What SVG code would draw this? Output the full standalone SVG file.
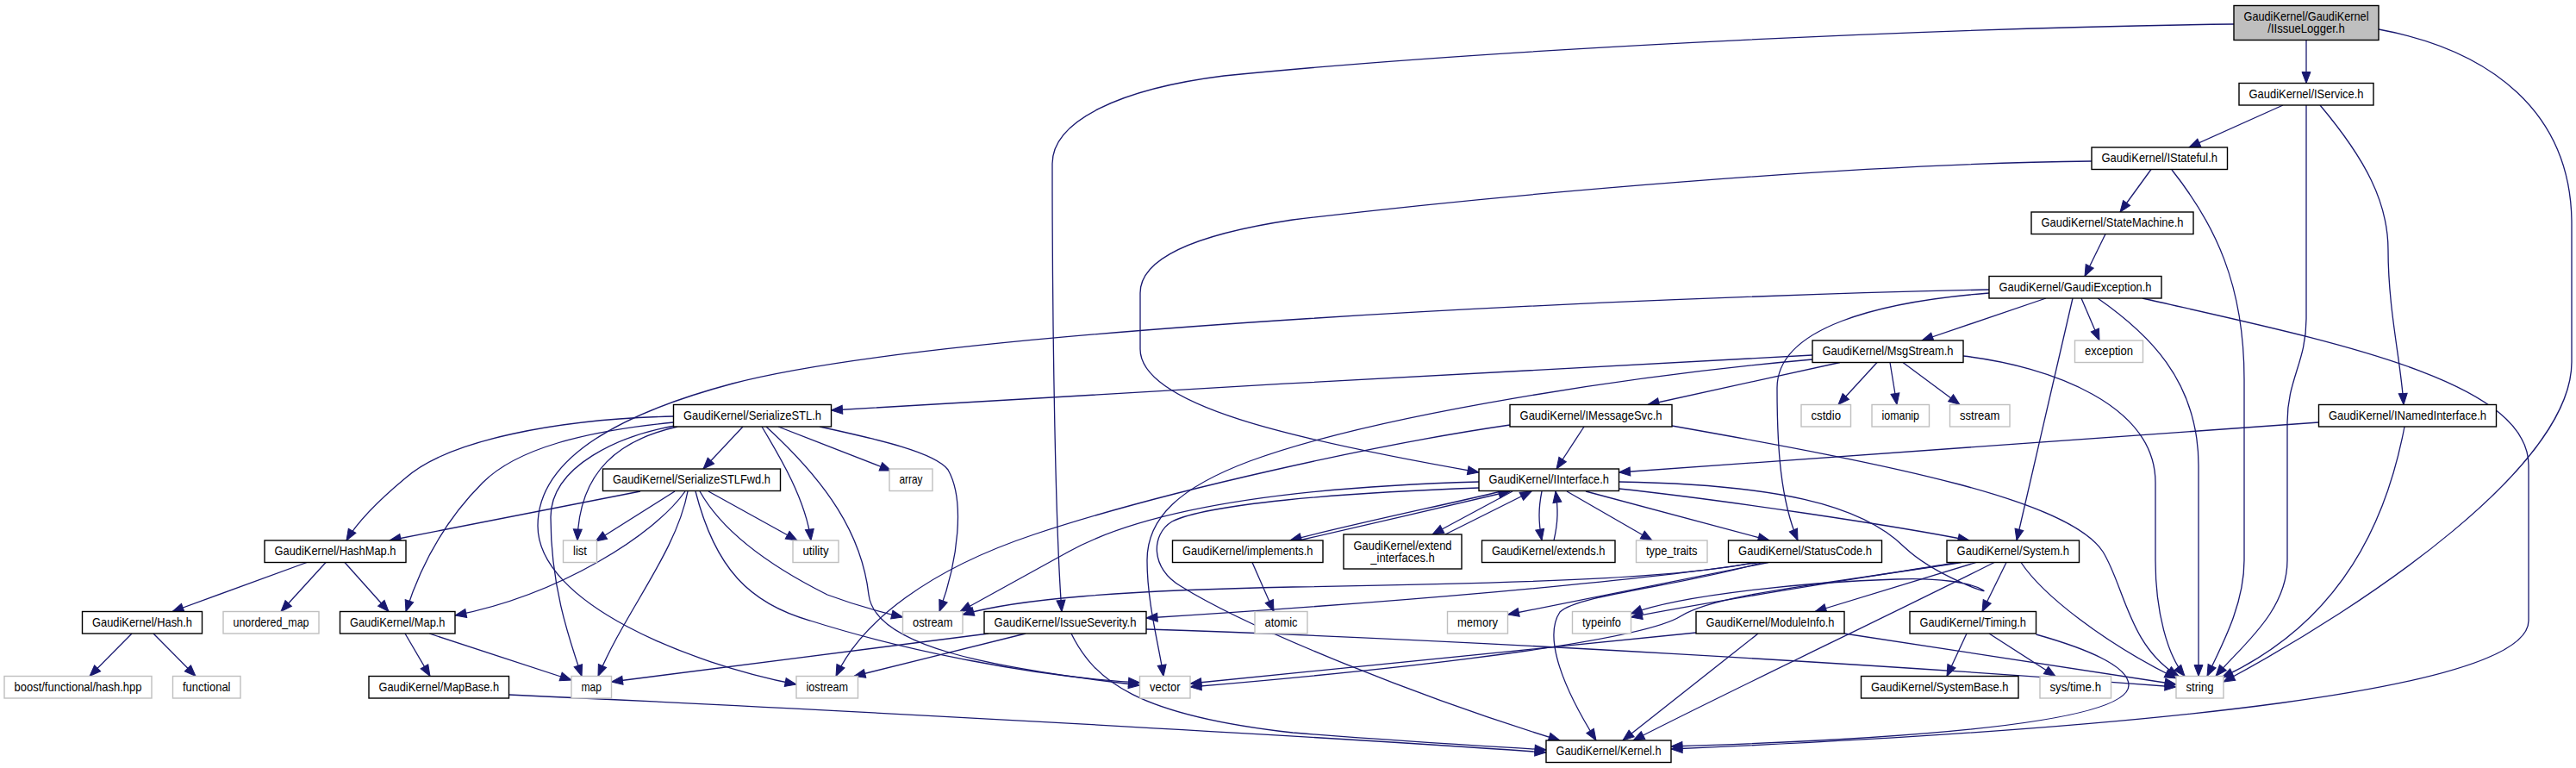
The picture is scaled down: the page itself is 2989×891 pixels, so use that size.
<svg xmlns="http://www.w3.org/2000/svg" width="2989" height="891" viewBox="0 0 2989 891">
<defs>
<style>
.edge{fill:none;stroke:#191970;stroke-width:1.3;marker-end:url(#arr)}
.nd rect{fill:#ffffff;stroke:#000000;stroke-width:1.4}
.ext rect{fill:#ffffff;stroke:#bfbfbf;stroke-width:1.4}
.root rect{fill:#bfbfbf;stroke:#000000;stroke-width:1.4}
text{font-family:"Liberation Sans",Arial,Helvetica,sans-serif;font-size:15px;text-anchor:middle;fill:#000000}
</style>
<marker id="arr" markerUnits="userSpaceOnUse" markerWidth="14" markerHeight="11" refX="13" refY="5" orient="auto" viewBox="0 0 14 11" style="overflow:visible">
<path d="M0,0 L13,5 L0,10 Z" fill="#191970" stroke="#191970" stroke-width="1"/>
</marker>
</defs>
<rect x="0" y="0" width="2989" height="891" fill="#ffffff"/>
<g id="edges">
<path class="edge" d="M2676,46.5 L2676,96.5"/>
<path class="edge" d="M2592,28 C2200,33 1700,60 1420,88 C1300,103 1221,140 1221,190 C1221,400 1225,620 1232,709.5"/>
<path class="edge" d="M2760,34 C2890,58 2984,130 2984,260 L2984,420 C2984,540 2750,700 2580,791"/>
<path class="edge" d="M2649,122 L2540,171"/>
<path class="edge" d="M2676,122 L2676,370 C2676,420 2654,440 2654,490 L2654,650 C2654,710 2600,750 2571,784.5"/>
<path class="edge" d="M2692,122 C2745,185 2771,235 2771,290 C2771,360 2786,420 2789,469.5"/>
<path class="edge" d="M2496,196.5 L2460,246"/>
<path class="edge" d="M2427,187 C2150,190 1750,225 1500,255 C1400,270 1323,295 1323,340 L1323,405 C1323,470 1500,510 1716,548"/>
<path class="edge" d="M2520,197 C2570,260 2604,330 2604,440 L2604,650 C2604,700 2580,745 2561,784.5"/>
<path class="edge" d="M2443,271.5 L2419,320.5"/>
<path class="edge" d="M2374,346 L2230,395"/>
<path class="edge" d="M2415,346 L2436,395"/>
<path class="edge" d="M2405,346 L2340,627"/>
<path class="edge" d="M2434,346 C2490,385 2551,440 2551,540 L2551,784.5"/>
<path class="edge" d="M2486,346 C2700,395 2934,440 2934,540 L2934,720 C2934,800 2500,845 1939,869"/>
<path class="edge" d="M2308,340 C2180,350 2062,380 2062,450 C2062,520 2066,580 2086,627"/>
<path class="edge" d="M2308,336 C1900,345 1100,380 850,445 C700,485 624,540 624,610 C624,700 800,770 924,794"/>
<path class="edge" d="M2135,420.5 L1912,469.5"/>
<path class="edge" d="M2178,420.5 L2133,469.5"/>
<path class="edge" d="M2193,420.5 L2201,469.5"/>
<path class="edge" d="M2208,420.5 L2274,469.5"/>
<path class="edge" d="M2278,413 C2380,425 2501,470 2501,560 L2501,650 C2501,710 2515,760 2535,784.5"/>
<path class="edge" d="M2103,412 C1800,428 1300,455 964.5,476"/>
<path class="edge" d="M2103,417 C1900,435 1600,480 1450,535 C1370,565 1331,600 1331,650 C1331,700 1345,750 1350,784.5"/>
<path class="edge" d="M1838,495 L1806,544"/>
<path class="edge" d="M1940,494 C2200,540 2400,580 2440,640 C2465,680 2470,750 2528,784.5"/>
<path class="edge" d="M1752,493 C1600,515 1350,570 1200,620 C1080,660 1000,720 970,784.5"/>
<path class="edge" d="M2690.5,490 L1878.5,548"/>
<path class="edge" d="M2790,495 C2770,600 2720,720 2578,786"/>
<path class="edge" d="M862,495 L816,544"/>
<path class="edge" d="M781.5,483 C650,486 520,510 470,555 C440,580 415,605 402,627"/>
<path class="edge" d="M781.5,490 C680,500 600,520 560,560 C520,600 490,650 471,709.5"/>
<path class="edge" d="M783,494 C720,505 639,540 639,600 C639,680 660,740 675,784.5"/>
<path class="edge" d="M786,495 C720,510 672,545 670,627"/>
<path class="edge" d="M884,495 C905,530 935,580 941,627"/>
<path class="edge" d="M889,495 C960,560 1000,620 1008,690 C1015,750 1150,775 1322.5,795"/>
<path class="edge" d="M903,495 L1034,546"/>
<path class="edge" d="M951,495 C1020,510 1085,525 1100,545 C1120,580 1112,650 1090,709.5"/>
<path class="edge" d="M743,570 L452,627"/>
<path class="edge" d="M783,570 L691,628"/>
<path class="edge" d="M795,570 C760,620 650,690 528,714"/>
<path class="edge" d="M798,570 C785,640 725,710 694,784.5"/>
<path class="edge" d="M822,570 L925,627"/>
<path class="edge" d="M812,570 C840,620 900,660 960,690 C1000,705 1030,712 1047.5,716"/>
<path class="edge" d="M807,570 C830,660 870,700 940,720 C1050,755 1200,785 1322.5,792"/>
<path class="edge" d="M356,652.5 L200,709.5"/>
<path class="edge" d="M378,652.5 L326,709.5"/>
<path class="edge" d="M400,652.5 L451,709.5"/>
<path class="edge" d="M153,735 L104,784.5"/>
<path class="edge" d="M178,735 L227,784.5"/>
<path class="edge" d="M470,735 L499,784.5"/>
<path class="edge" d="M498,735 L663,789"/>
<path class="edge" d="M590.5,806 C900,820 1500,852 1794,873"/>
<path class="edge" d="M1243,735 C1270,790 1320,830 1500,850 C1650,862 1750,867 1794,870"/>
<path class="edge" d="M1147,735 L709.5,791"/>
<path class="edge" d="M1190,735 L991,784.5"/>
<path class="edge" d="M1330,730 C1700,742 2200,772 2525,797"/>
<path class="edge" d="M1453,652.5 L1478,709.5"/>
<path class="edge" d="M1742,570 C1680,585 1560,610 1497,627"/>
<path class="edge" d="M1507,627 C1570,612 1690,585 1752,570"/>
<path class="edge" d="M1755,570 L1662,620"/>
<path class="edge" d="M1677,620 L1777,570"/>
<path class="edge" d="M1789,570 C1785,590 1785,605 1789,627"/>
<path class="edge" d="M1803,627 C1808,605 1808,590 1805,570"/>
<path class="edge" d="M1818,570 L1917,627"/>
<path class="edge" d="M1840,570 L2053,627"/>
<path class="edge" d="M1878.5,567 C2000,580 2200,610 2285,627"/>
<path class="edge" d="M1878.5,559 C2060,562 2160,585 2210,635 C2245,668 2315,692 2300,684 C2285,676 2250,670 2200,672 C2100,675 1950,690 1892.5,712"/>
<path class="edge" d="M1716,559 C1500,565 1330,590 1240,640 C1190,668 1150,690 1114,709.5"/>
<path class="edge" d="M1716,566 C1550,572 1400,585 1360,605 C1335,620 1335,660 1370,680 C1450,730 1650,810 1810,859"/>
<path class="edge" d="M2040,652.5 C1900,675 1600,700 1330,717"/>
<path class="edge" d="M2036,652.5 C1950,670 1800,676 1500,681 C1300,685 1180,695 1117,713"/>
<path class="edge" d="M2052,652.5 L1749.5,713"/>
<path class="edge" d="M2045,652.5 C1950,680 1830,690 1810,710 C1790,740 1815,800 1852,859"/>
<path class="edge" d="M2272,652.5 C2150,672 2000,695 1892.5,716"/>
<path class="edge" d="M2276,652.5 C2100,680 1990,690 1950,715 C1910,740 1700,770 1381,797"/>
<path class="edge" d="M2293,652.5 L2106,709.5"/>
<path class="edge" d="M2328,652.5 L2300,709.5"/>
<path class="edge" d="M2314,652.5 C2200,710 2000,805 1895,859"/>
<path class="edge" d="M2345,652.5 C2370,690 2440,745 2525,787"/>
<path class="edge" d="M2040,735 L1883,859"/>
<path class="edge" d="M1968,734 L1381,793"/>
<path class="edge" d="M2140,735 L2525,794"/>
<path class="edge" d="M2282,735 L2259,784.5"/>
<path class="edge" d="M2308,735 L2385,784.5"/>
<path class="edge" d="M2362.5,736 C2430,755 2470,775 2470,795 C2470,840 2200,858 1939,866"/>
</g>
<g id="node-IIssueLogger" class="root"><rect x="2592" y="6.5" width="168" height="40"/><text x="2676" y="24" textLength="145" lengthAdjust="spacingAndGlyphs">GaudiKernel/GaudiKernel</text><text x="2676" y="38" textLength="89.5" lengthAdjust="spacingAndGlyphs">/IIssueLogger.h</text></g>
<g id="node-IService" class="nd"><rect x="2598" y="96.5" width="156" height="25.5"/><text x="2676" y="113.5" textLength="133" lengthAdjust="spacingAndGlyphs">GaudiKernel/IService.h</text></g>
<g id="node-IStateful" class="nd"><rect x="2427" y="171" width="157.5" height="25.5"/><text x="2505.75" y="188" textLength="134.5" lengthAdjust="spacingAndGlyphs">GaudiKernel/IStateful.h</text></g>
<g id="node-StateMachine" class="nd"><rect x="2357" y="246" width="188" height="25.5"/><text x="2451" y="263" textLength="165" lengthAdjust="spacingAndGlyphs">GaudiKernel/StateMachine.h</text></g>
<g id="node-GaudiException" class="nd"><rect x="2308" y="320.5" width="200" height="25.5"/><text x="2408" y="337.5" textLength="177" lengthAdjust="spacingAndGlyphs">GaudiKernel/GaudiException.h</text></g>
<g id="node-MsgStream" class="nd"><rect x="2103" y="395" width="175" height="25.5"/><text x="2190.5" y="412" textLength="152" lengthAdjust="spacingAndGlyphs">GaudiKernel/MsgStream.h</text></g>
<g id="node-exception" class="ext"><rect x="2407.5" y="395" width="79" height="25.5"/><text x="2447" y="412" textLength="56" lengthAdjust="spacingAndGlyphs">exception</text></g>
<g id="node-SerializeSTL" class="nd"><rect x="781.5" y="469.5" width="183" height="25.5"/><text x="873" y="486.5" textLength="160" lengthAdjust="spacingAndGlyphs">GaudiKernel/SerializeSTL.h</text></g>
<g id="node-IMessageSvc" class="nd"><rect x="1752" y="469.5" width="188" height="25.5"/><text x="1846" y="486.5" textLength="165" lengthAdjust="spacingAndGlyphs">GaudiKernel/IMessageSvc.h</text></g>
<g id="node-cstdio" class="ext"><rect x="2090" y="469.5" width="57.5" height="25.5"/><text x="2118.75" y="486.5" textLength="34.5" lengthAdjust="spacingAndGlyphs">cstdio</text></g>
<g id="node-iomanip" class="ext"><rect x="2172" y="469.5" width="66.5" height="25.5"/><text x="2205.25" y="486.5" textLength="43.5" lengthAdjust="spacingAndGlyphs">iomanip</text></g>
<g id="node-sstream" class="ext"><rect x="2262.5" y="469.5" width="69.5" height="25.5"/><text x="2297.25" y="486.5" textLength="46.5" lengthAdjust="spacingAndGlyphs">sstream</text></g>
<g id="node-INamedInterface" class="nd"><rect x="2690.5" y="469.5" width="206" height="25.5"/><text x="2793.5" y="486.5" textLength="183" lengthAdjust="spacingAndGlyphs">GaudiKernel/INamedInterface.h</text></g>
<g id="node-SerializeSTLFwd" class="nd"><rect x="699.5" y="544" width="206" height="25.5"/><text x="802.5" y="561" textLength="183" lengthAdjust="spacingAndGlyphs">GaudiKernel/SerializeSTLFwd.h</text></g>
<g id="node-array" class="ext"><rect x="1032" y="544" width="50" height="25.5"/><text x="1057" y="561" textLength="27" lengthAdjust="spacingAndGlyphs">array</text></g>
<g id="node-IInterface" class="nd"><rect x="1716" y="544" width="162.5" height="25.5"/><text x="1797.25" y="561" textLength="139.5" lengthAdjust="spacingAndGlyphs">GaudiKernel/IInterface.h</text></g>
<g id="node-HashMap" class="nd"><rect x="307" y="627" width="164" height="25.5"/><text x="389" y="644" textLength="141" lengthAdjust="spacingAndGlyphs">GaudiKernel/HashMap.h</text></g>
<g id="node-list" class="ext"><rect x="653.5" y="627" width="39" height="25.5"/><text x="673" y="644" textLength="16" lengthAdjust="spacingAndGlyphs">list</text></g>
<g id="node-utility" class="ext"><rect x="920" y="627" width="53" height="25.5"/><text x="946.5" y="644" textLength="30" lengthAdjust="spacingAndGlyphs">utility</text></g>
<g id="node-implements" class="nd"><rect x="1360.5" y="627" width="174.5" height="25.5"/><text x="1447.75" y="644" textLength="151.5" lengthAdjust="spacingAndGlyphs">GaudiKernel/implements.h</text></g>
<g id="node-extend_interfaces" class="nd"><rect x="1559" y="620" width="137" height="40"/><text x="1627.5" y="637.5" textLength="114" lengthAdjust="spacingAndGlyphs">GaudiKernel/extend</text><text x="1627.5" y="651.5" textLength="74.5" lengthAdjust="spacingAndGlyphs">_interfaces.h</text></g>
<g id="node-extends" class="nd"><rect x="1719.5" y="627" width="154.5" height="25.5"/><text x="1796.75" y="644" textLength="131.5" lengthAdjust="spacingAndGlyphs">GaudiKernel/extends.h</text></g>
<g id="node-type_traits" class="ext"><rect x="1898.5" y="627" width="82.5" height="25.5"/><text x="1939.75" y="644" textLength="59.5" lengthAdjust="spacingAndGlyphs">type_traits</text></g>
<g id="node-StatusCode" class="nd"><rect x="2005.5" y="627" width="178" height="25.5"/><text x="2094.5" y="644" textLength="155" lengthAdjust="spacingAndGlyphs">GaudiKernel/StatusCode.h</text></g>
<g id="node-System" class="nd"><rect x="2259" y="627" width="153.5" height="25.5"/><text x="2335.75" y="644" textLength="130.5" lengthAdjust="spacingAndGlyphs">GaudiKernel/System.h</text></g>
<g id="node-Hash" class="nd"><rect x="95.5" y="709.5" width="139" height="25.5"/><text x="165" y="726.5" textLength="116" lengthAdjust="spacingAndGlyphs">GaudiKernel/Hash.h</text></g>
<g id="node-unordered_map" class="ext"><rect x="259" y="709.5" width="111" height="25.5"/><text x="314.5" y="726.5" textLength="88" lengthAdjust="spacingAndGlyphs">unordered_map</text></g>
<g id="node-Map" class="nd"><rect x="394.5" y="709.5" width="133.5" height="25.5"/><text x="461.25" y="726.5" textLength="110.5" lengthAdjust="spacingAndGlyphs">GaudiKernel/Map.h</text></g>
<g id="node-ostream" class="ext"><rect x="1047.5" y="709.5" width="69.5" height="25.5"/><text x="1082.25" y="726.5" textLength="46.5" lengthAdjust="spacingAndGlyphs">ostream</text></g>
<g id="node-IssueSeverity" class="nd"><rect x="1142" y="709.5" width="188" height="25.5"/><text x="1236" y="726.5" textLength="165" lengthAdjust="spacingAndGlyphs">GaudiKernel/IssueSeverity.h</text></g>
<g id="node-atomic" class="ext"><rect x="1456" y="709.5" width="61" height="25.5"/><text x="1486.5" y="726.5" textLength="38" lengthAdjust="spacingAndGlyphs">atomic</text></g>
<g id="node-memory" class="ext"><rect x="1679.5" y="709.5" width="70" height="25.5"/><text x="1714.5" y="726.5" textLength="47" lengthAdjust="spacingAndGlyphs">memory</text></g>
<g id="node-typeinfo" class="ext"><rect x="1824.5" y="709.5" width="68" height="25.5"/><text x="1858.5" y="726.5" textLength="45" lengthAdjust="spacingAndGlyphs">typeinfo</text></g>
<g id="node-ModuleInfo" class="nd"><rect x="1968" y="709.5" width="172" height="25.5"/><text x="2054" y="726.5" textLength="149" lengthAdjust="spacingAndGlyphs">GaudiKernel/ModuleInfo.h</text></g>
<g id="node-Timing" class="nd"><rect x="2216" y="709.5" width="146.5" height="25.5"/><text x="2289.25" y="726.5" textLength="123.5" lengthAdjust="spacingAndGlyphs">GaudiKernel/Timing.h</text></g>
<g id="node-boost_hash" class="ext"><rect x="5" y="784.5" width="171" height="25.5"/><text x="90.5" y="801.5" textLength="148" lengthAdjust="spacingAndGlyphs">boost/functional/hash.hpp</text></g>
<g id="node-functional" class="ext"><rect x="200.5" y="784.5" width="78.5" height="25.5"/><text x="239.75" y="801.5" textLength="55.5" lengthAdjust="spacingAndGlyphs">functional</text></g>
<g id="node-MapBase" class="nd"><rect x="428" y="784.5" width="162.5" height="25.5"/><text x="509.25" y="801.5" textLength="139.5" lengthAdjust="spacingAndGlyphs">GaudiKernel/MapBase.h</text></g>
<g id="node-map" class="ext"><rect x="663" y="784.5" width="46.5" height="25.5"/><text x="686.25" y="801.5" textLength="23.5" lengthAdjust="spacingAndGlyphs">map</text></g>
<g id="node-iostream" class="ext"><rect x="924" y="784.5" width="71.5" height="25.5"/><text x="959.75" y="801.5" textLength="48.5" lengthAdjust="spacingAndGlyphs">iostream</text></g>
<g id="node-vector" class="ext"><rect x="1322.5" y="784.5" width="58.5" height="25.5"/><text x="1351.75" y="801.5" textLength="35.5" lengthAdjust="spacingAndGlyphs">vector</text></g>
<g id="node-SystemBase" class="nd"><rect x="2159.5" y="784.5" width="182.5" height="25.5"/><text x="2250.75" y="801.5" textLength="159.5" lengthAdjust="spacingAndGlyphs">GaudiKernel/SystemBase.h</text></g>
<g id="node-sys_time" class="ext"><rect x="2367" y="784.5" width="82.5" height="25.5"/><text x="2408.25" y="801.5" textLength="59.5" lengthAdjust="spacingAndGlyphs">sys/time.h</text></g>
<g id="node-string" class="ext"><rect x="2525" y="784.5" width="55" height="25.5"/><text x="2552.5" y="801.5" textLength="32" lengthAdjust="spacingAndGlyphs">string</text></g>
<g id="node-Kernel" class="nd"><rect x="1794" y="859" width="145" height="25.5"/><text x="1866.5" y="876" textLength="122" lengthAdjust="spacingAndGlyphs">GaudiKernel/Kernel.h</text></g>
</svg>
